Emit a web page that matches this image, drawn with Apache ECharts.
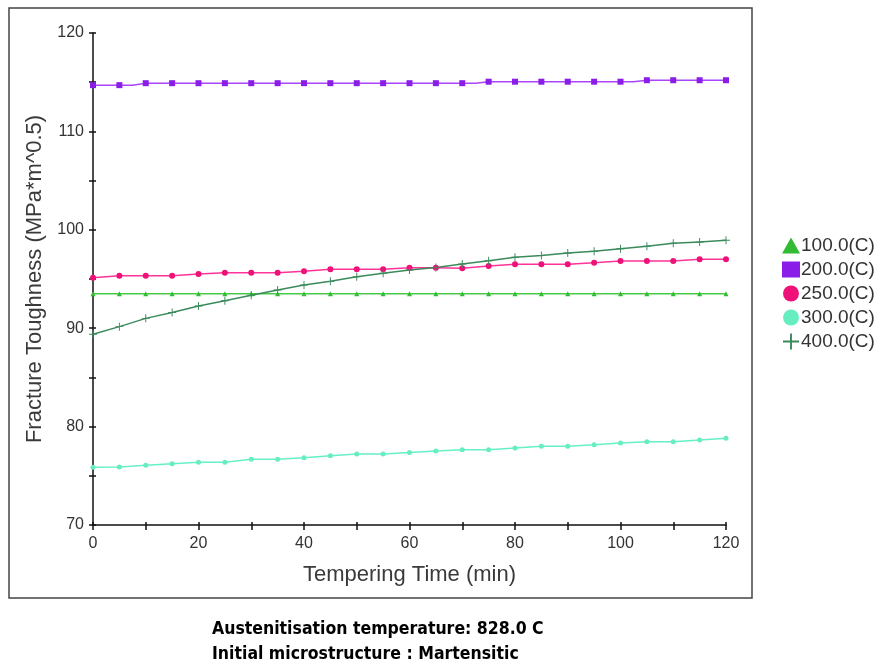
<!DOCTYPE html>
<html><head><meta charset="utf-8">
<script src="https://cdn.jsdelivr.net/npm/echarts@6/dist/echarts.min.js"></script>
<style>html,body{margin:0;padding:0;background:#fff}#c{width:881px;height:664px}</style>
</head><body><div id="c"></div>
<script>
const times = [0,5,10,15,20,25,30,35,40,45,50,55,60,65,70,75,80,85,90,95,100,105,110,115,120];
const seriesNames = ['100.0(C)','200.0(C)','250.0(C)','300.0(C)','400.0(C)'];
const t100 = [93.5,93.5,93.5,93.5,93.5,93.5,93.5,93.5,93.5,93.5,93.5,93.5,93.5,93.5,93.5,93.5,93.5,93.5,93.5,93.5,93.5,93.5,93.5,93.5,93.5];
const t200 = [114.7,114.7,114.9,114.9,114.9,114.9,114.9,114.9,114.9,114.9,114.9,114.9,114.9,114.9,114.9,115.05,115.05,115.05,115.05,115.05,115.05,115.2,115.2,115.2,115.2];
const t250 = [95.13,95.33,95.33,95.33,95.5,95.64,95.64,95.64,95.8,95.98,95.98,95.98,96.15,96.15,96.1,96.32,96.5,96.5,96.5,96.66,96.83,96.83,96.83,97.0,97.0];
const t300 = [75.86,75.89,76.07,76.23,76.37,76.37,76.68,76.68,76.84,77.04,77.22,77.22,77.37,77.52,77.65,77.65,77.83,78.0,78.0,78.16,78.33,78.47,78.47,78.64,78.81];
const t400 = [89.38,90.16,91.0,91.6,92.26,92.8,93.34,93.88,94.39,94.76,95.23,95.58,95.92,96.18,96.52,96.86,97.2,97.4,97.64,97.81,98.08,98.32,98.63,98.76,98.93];
const yTicks = [70,80,90,100,110,120];
const xTicks = [0,20,40,60,80,100,120];
const footer = ['Austenitisation temperature: 828.0 C','Initial microstructure : Martensitic'];

const pair = arr => times.map((t,i)=>[t,arr[i]]);
const plusPath = 'path://M4.4,0H5.6V4.4H10V5.6H5.6V10H4.4V5.6H0V4.4H4.4Z';
const font = 'Arial, "Liberation Sans", sans-serif';
const footFont = 'bold 17.5px "Liberation Sans Narrow", "DejaVu Sans Condensed", Arial, sans-serif';
const tickStyle = {color:'#111', width:1.5};

const chart = echarts.init(document.getElementById('c'), null, {renderer:'canvas'});
chart.setOption({
  animation:false,
  backgroundColor:'#fff',
  grid:{left:93, top:33, right:155, bottom:139, containLabel:false},
  xAxis:[{type:'value', min:xTicks[0], max:xTicks[xTicks.length-1], interval:20,
    name:'Tempering Time (min)', nameLocation:'middle', nameGap:39,
    nameTextStyle:{fontSize:22, color:'#3a3a3a', fontFamily:font},
    axisLine:{lineStyle:{color:'#111', width:1.5}},
    axisTick:{show:true, length:5, lineStyle:tickStyle},
    minorTick:{show:true, splitNumber:2, length:5, lineStyle:tickStyle},
    axisLabel:{fontSize:16, color:'#333', fontFamily:font, margin:11},
    splitLine:{show:false}},
   {type:'value', position:'bottom', min:xTicks[0], max:xTicks[xTicks.length-1], interval:20,
    axisLine:{show:false},
    axisTick:{show:true, inside:true, length:3, lineStyle:tickStyle},
    minorTick:{show:true, splitNumber:2, length:3, lineStyle:tickStyle},
    axisLabel:{show:false}, splitLine:{show:false}}],
  yAxis:[{type:'value', min:yTicks[0], max:yTicks[yTicks.length-1], interval:10,
    name:'Fracture Toughness (MPa*m^0.5)', nameLocation:'middle', nameGap:45, nameRotate:90,
    nameTextStyle:{fontSize:22, color:'#3a3a3a', fontFamily:font},
    axisLine:{show:true, lineStyle:{color:'#111', width:1.5}},
    axisTick:{show:true, length:4, lineStyle:tickStyle},
    minorTick:{show:true, splitNumber:2, length:4, lineStyle:tickStyle},
    axisLabel:{fontSize:16, color:'#333', fontFamily:font, margin:9},
    splitLine:{show:false}},
   {type:'value', position:'left', min:yTicks[0], max:yTicks[yTicks.length-1], interval:10,
    axisLine:{show:false},
    axisTick:{show:true, inside:true, length:3, lineStyle:tickStyle},
    minorTick:{show:true, splitNumber:2, length:3, lineStyle:tickStyle},
    axisLabel:{show:false}, splitLine:{show:false}}],
  legend:{orient:'vertical', left:777, top:231, itemGap:5, itemWidth:18, itemHeight:16,
    textStyle:{fontSize:19, color:'#333', fontFamily:font, padding:[0,0,0,-4]},
    data:[
      {name:seriesNames[0], icon:'triangle'},
      {name:seriesNames[1], icon:'rect'},
      {name:seriesNames[2], icon:'circle'},
      {name:seriesNames[3], icon:'circle'},
      {name:seriesNames[4], icon:plusPath}
    ]},
  graphic:[
    {type:'rect', shape:{x:9, y:8, width:743, height:590}, style:{fill:'none', stroke:'#444', lineWidth:1.5}, z:-1},
    {type:'text', left:212, top:620, style:{text:footer[0], font:footFont, fill:'#000'}},
    {type:'text', left:212, top:645, style:{text:footer[1], font:footFont, fill:'#000'}}
  ],
  series:[
    {name:seriesNames[0], type:'line', data:pair(t100), symbol:'triangle', symbolSize:5,
      lineStyle:{color:'#44cc44', width:1.5}, itemStyle:{color:'#33bb33'}},
    {name:seriesNames[1], type:'line', step:'middle', data:pair(t200), symbol:'rect', symbolSize:6,
      lineStyle:{color:'#aa44ff', width:1.5}, itemStyle:{color:'#8a1ee8'}},
    {name:seriesNames[2], type:'line', data:pair(t250), symbol:'circle', symbolSize:6,
      lineStyle:{color:'#ff3399', width:1.5}, itemStyle:{color:'#ee1177'}},
    {name:seriesNames[3], type:'line', data:pair(t300), symbol:'circle', symbolSize:5,
      lineStyle:{color:'#66f0c8', width:1.5}, itemStyle:{color:'#66eec0'}},
    {name:seriesNames[4], type:'line', data:pair(t400), symbol:plusPath, symbolSize:8,
      lineStyle:{color:'#3b8a5c', width:1.5}, itemStyle:{color:'#3b8a5c'}}
  ]
});
</script></body></html>
